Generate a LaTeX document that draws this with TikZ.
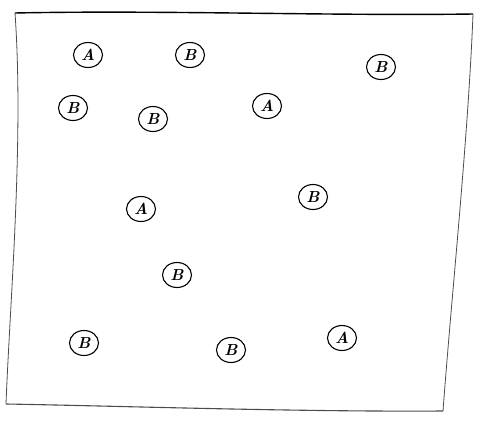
\documentclass[tikz,border=0pt]{standalone}
\usetikzlibrary{shapes.geometric}
\begin{document}
\begin{tikzpicture}[x=1pt,y=-1pt,
  tok/.style={ellipse,draw,line width=1.1pt,minimum width=29pt,minimum height=25pt,inner sep=0pt,font=\fontsize{16}{16}\selectfont\bfseries\itshape},
  edge/.style={draw=black!70,line width=0.8pt,line join=round}]
\useasboundingbox (0,0) rectangle (482,423);
% frame
\coordinate (tl) at (15,13);
\coordinate (tr) at (473,14);
\coordinate (br) at (443,411);
\coordinate (bl) at (6,404);
\draw[line width=1.4pt] (tl) .. controls (160,10) and (330,16) .. (tr);
\draw[edge] (tr) .. controls (468,140) and (452,290) .. (br);
\draw[edge,line width=1.1pt] (br) .. controls (300,412) and (120,406) .. (bl);
\draw[edge] (bl) .. controls (10,300) and (24,140) .. (tl);
% tokens
\node[tok] (a1) at (88,55) {A};
\node[tok] (b1) at (190,55) {B};
\node[tok] (b2) at (381,67) {B};
\node[tok] (b3) at (73,108) {B};
\node[tok] (b4) at (153,119) {B};
\node[tok] (a2) at (267,106) {A};
\node[tok] (a3) at (141,209) {A};
\node[tok] (b5) at (313,197) {B};
\node[tok] (b6) at (177,275) {B};
\node[tok] (b7) at (84,343) {B};
\node[tok] (b8) at (231,350) {B};
\node[tok] (a4) at (342,338) {A};
\end{tikzpicture}
\end{document}
